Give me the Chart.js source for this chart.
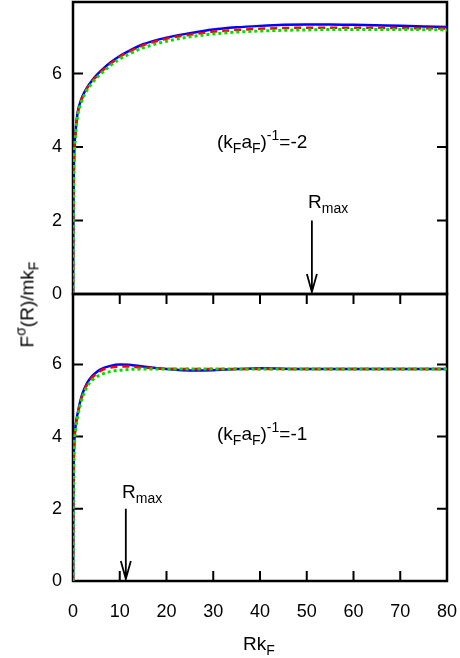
<!DOCTYPE html>
<html>
<head>
<meta charset="utf-8">
<script src="https://cdn.jsdelivr.net/npm/chart.js@4.4.1/dist/chart.umd.min.js"></script>
<style>
  body { margin: 0; background: #fff; }
  #wrap { position: relative; width: 460px; height: 658px; background: #fff; overflow: hidden; }
  canvas { position: absolute; left: 0; }
  .ann { position: absolute; font: 19px "Liberation Sans", Arial, sans-serif; line-height: 19px; color: #000; white-space: nowrap; }
  .ann sub, .ann sup { font-size: 14px; line-height: 0; }
  .ann sub { vertical-align: -5px; }
  .ann sup { vertical-align: 8px; }
</style>
</head>
<body>
<div id="wrap">
  <canvas id="top_chart" width="460" height="300" style="top:0"></canvas>
  <canvas id="bottom_chart" width="460" height="368" style="top:290px"></canvas>

  <div class="ann" style="left:217px; top:132px">(k<sub>F</sub>a<sub>F</sub>)<sup>-1</sup>=-2</div>
  <div class="ann" style="left:217px; top:424px">(k<sub>F</sub>a<sub>F</sub>)<sup>-1</sup>=-1</div>
  <div class="ann" style="left:308px; top:192px">R<sub>max</sub></div>
  <div class="ann" style="left:122px; top:482px">R<sub>max</sub></div>
  <div class="ann" style="left:243px; top:634px">Rk<sub>F</sub></div>
  <div class="ann" style="left:-73px; top:295px; width:200px; text-align:center; transform:rotate(-90deg)">F<sup>σ</sup>(R)/mk<sub>F</sub></div>
</div>

<script>
// R k_F grid shared by all curves
const rk = [0, 0.05, 0.15, 0.3, 0.6, 1, 1.5, 2, 3, 4, 5, 6, 8, 10, 12, 15, 20, 25, 30, 35, 40, 45, 50, 55, 60, 70, 80];

// (kF aF)^-1 = -2
const top_blue  = [0, 1.8, 3.2, 3.95, 4.5, 4.95, 5.2, 5.38, 5.62, 5.8, 5.95, 6.08, 6.3, 6.48, 6.62, 6.8, 6.98, 7.1, 7.2, 7.26, 7.3, 7.33, 7.34, 7.34, 7.33, 7.3, 7.27];
const top_red   = [0, 1.7, 3.1, 3.9, 4.45, 4.9, 5.17, 5.35, 5.6, 5.78, 5.92, 6.05, 6.27, 6.46, 6.6, 6.77, 6.95, 7.06, 7.14, 7.19, 7.22, 7.24, 7.25, 7.25, 7.25, 7.24, 7.23];
const top_green = [0, 1.6, 3.0, 3.8, 4.4, 4.85, 5.12, 5.3, 5.55, 5.73, 5.88, 6.0, 6.22, 6.4, 6.53, 6.7, 6.88, 7.0, 7.08, 7.13, 7.16, 7.18, 7.19, 7.2, 7.2, 7.2, 7.19];

// (kF aF)^-1 = -1
const bot_blue  = [0, 2.0, 3.3, 3.9, 4.35, 4.65, 4.95, 5.18, 5.48, 5.66, 5.78, 5.87, 5.96, 6.0, 5.99, 5.94, 5.87, 5.83, 5.84, 5.87, 5.89, 5.88, 5.87, 5.87, 5.87, 5.87, 5.87];
const bot_red   = [0, 1.9, 3.2, 3.85, 4.3, 4.6, 4.9, 5.14, 5.44, 5.62, 5.74, 5.83, 5.91, 5.94, 5.94, 5.91, 5.88, 5.87, 5.87, 5.87, 5.87, 5.87, 5.87, 5.87, 5.87, 5.87, 5.87];
const bot_green = [0, 1.8, 3.1, 3.75, 4.25, 4.55, 4.85, 5.08, 5.38, 5.55, 5.65, 5.72, 5.8, 5.84, 5.86, 5.87, 5.87, 5.87, 5.87, 5.87, 5.87, 5.87, 5.87, 5.87, 5.87, 5.87, 5.87];

// arrow positions (R_max)
const top_rmax = 51.1;
const bot_rmax = 11.3;

const FONT = { family: '"Liberation Sans", Arial, sans-serif', size: 18 };

function toPoints(ys) {
    return rk.map((x, i) => ({ x: x, y: ys[i] }));
}

function makeDatasets(blue, red, green) {
    // first dataset ends up on top
    return [
        { label: 'green', data: toPoints(green), borderColor: '#00e000', borderWidth: 3, borderDash: [3, 3] },
        { label: 'red', data: toPoints(red), borderColor: '#ff0000', borderWidth: 2.5, borderDash: [7, 5] },
        { label: 'blue', data: toPoints(blue), borderColor: '#0000ff', borderWidth: 2.5 }
    ];
}

// frame, inward ticks and the R_max arrow
const framePlugin = {
    id: 'frame',
    beforeDatasetsDraw(chart, args, opts) {
        const ctx = chart.ctx;
        const a = chart.chartArea;
        const x = chart.scales.x;
        const y = chart.scales.y;
        ctx.save();
        ctx.strokeStyle = '#000';
        ctx.lineWidth = 2.5;
        ctx.strokeRect(a.left, a.top, a.right - a.left, a.bottom - a.top);

        ctx.lineWidth = 2;
        ctx.beginPath();
        y.ticks.forEach(t => {
            const py = y.getPixelForValue(t.value);
            ctx.moveTo(a.left, py); ctx.lineTo(a.left + 10, py);
            ctx.moveTo(a.right, py); ctx.lineTo(a.right - 10, py);
        });
        if (opts.xTicks) {
            x.ticks.forEach(t => {
                if (t.value <= x.min || t.value >= x.max) return;
                const px = x.getPixelForValue(t.value);
                ctx.moveTo(px, a.bottom); ctx.lineTo(px, a.bottom - 10);
                ctx.moveTo(px, a.top); ctx.lineTo(px, a.top + 10);
            });
        }
        ctx.stroke();

        // arrow
        const ax = x.getPixelForValue(opts.arrowX);
        const y0 = y.getPixelForValue(2);
        const y1 = y.getPixelForValue(0) - 2;
        ctx.lineWidth = 1.8;
        ctx.beginPath();
        ctx.moveTo(ax, y0); ctx.lineTo(ax, y1);
        ctx.moveTo(ax - 5, y1 - 18); ctx.lineTo(ax, y1); ctx.lineTo(ax + 5, y1 - 18);
        ctx.stroke();
        ctx.restore();
    }
};

function drawPanel(id, datasets, showX, arrowX, padding, xHeight) {
    var canvas = document.getElementById(id);
    var setup = {
        type: 'line',
        data: { datasets: datasets },
        options: {
            responsive: false,
            animation: false,
            devicePixelRatio: 1,
            layout: { padding: padding },
            elements: {
                point: { radius: 0 },
                line: { cubicInterpolationMode: 'monotone', fill: false }
            },
            plugins: {
                legend: { display: false },
                tooltip: { enabled: false },
                frame: { xTicks: showX, arrowX: arrowX }
            },
            scales: {
                x: {
                    type: 'linear',
                    min: 0, max: 80,
                    display: showX,
                    grid: { display: false, drawTicks: false },
                    border: { display: false },
                    ticks: { stepSize: 10, padding: 20, color: '#000', font: FONT, maxRotation: 0 },
                    afterFit: function (scale) {
                        scale.height = xHeight;
                        scale.paddingLeft = 0; scale.paddingRight = 0;
                    }
                },
                y: {
                    min: 0, max: 7.95,
                    grid: { display: false, drawTicks: false },
                    border: { display: false },
                    ticks: { stepSize: 2, includeBounds: false, padding: 11, color: '#000', font: FONT },
                    afterFit: function (scale) {
                        scale.width = 73;
                        scale.paddingTop = 0; scale.paddingBottom = 0;
                    }
                }
            }
        },
        plugins: [framePlugin]
    };
    return new Chart(canvas, setup);
}

drawPanel('top_chart', makeDatasets(top_blue, top_red, top_green), false, top_rmax,
    { top: 2, right: 13, bottom: 6, left: 0 }, 0);
drawPanel('bottom_chart', makeDatasets(bot_blue, bot_red, bot_green), true, bot_rmax,
    { top: 4, right: 13, bottom: 0, left: 0 }, 77);
</script>
</body>
</html>
